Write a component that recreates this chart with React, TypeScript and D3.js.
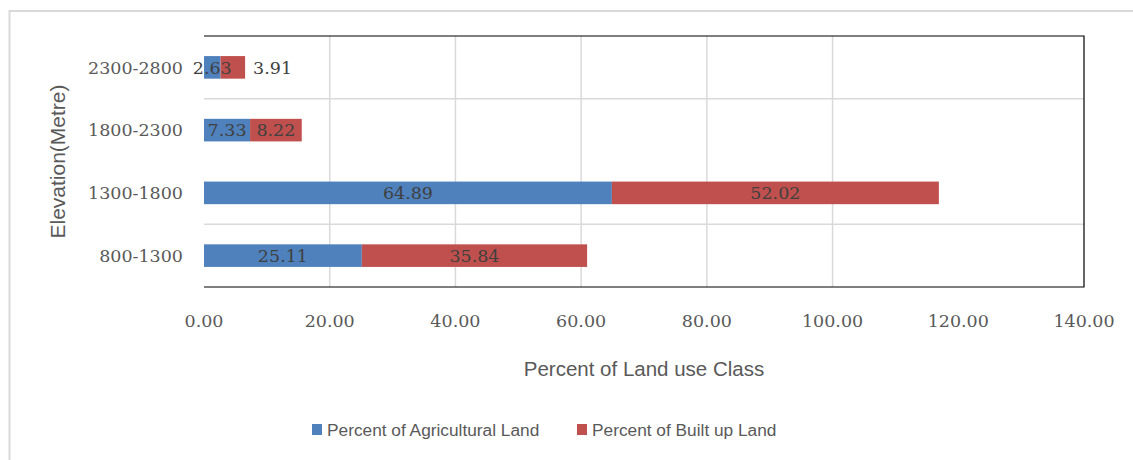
import React from 'react';
import * as d3 from 'd3';

const categories = ['2300-2800', '1800-2300', '1300-1800', '800-1300'];
const agricultural = [2.63, 7.33, 64.89, 25.11];
const builtUp = [3.91, 8.22, 52.02, 35.84];
const xTicks = [0, 20, 40, 60, 80, 100, 120, 140];
const seriesNames = ['Percent of Agricultural Land', 'Percent of Built up Land'];
const seriesColors = ['#4f81bd', '#c0504d'];

const W = 1133;
const H = 460;
const margin = { left: 204, right: 49, top: 36, bottom: 173 };

const serif = '"DejaVu Serif", serif';
const sans = '"Liberation Sans", Arial, sans-serif';

export default function App() {
  const x = d3
    .scaleLinear()
    .domain([0, 140])
    .range([margin.left, W - margin.right]);
  const y = d3
    .scaleBand<string>()
    .domain(categories)
    .range([margin.top, H - margin.bottom])
    .paddingInner(0.64)
    .paddingOuter(0.32);

  const rows = categories.map((c, i) => ({ cat: c, a: agricultural[i], b: builtUp[i] }));
  const stack = d3.stack<any>().keys(['a', 'b'])(rows);
  const step = y.step();
  const x0 = x(0);
  const x1 = x(140);
  const top = margin.top;
  const bottom = H - margin.bottom;

  return (
    <div style={{ position: 'fixed', left: 0, top: 0 }}>
      <svg width={W} height={H} style={{ display: 'block', background: '#fff' }}>
        {/* chart frame */}
        <rect x={9.5} y={11} width={W + 20} height={H + 20} fill="none" stroke="#d9d9d9" strokeWidth={2} />

        {/* gridlines */}
        {xTicks
          .filter((t) => t > 0 && t < 120)
          .map((t) => (
            <line key={t} x1={x(t)} x2={x(t)} y1={top} y2={bottom} stroke="#d9d9d9" strokeWidth={1.5} />
          ))}
        {categories
          .filter((_, i) => i % 2 === 1)
          .map((c) => {
            const yy = (y(c) as number) - (step * y.paddingInner()) / 2;
            return <line key={c} x1={x0} x2={x1} y1={yy} y2={yy} stroke="#d9d9d9" strokeWidth={1.5} />;
          })}

        {/* plot border (no left side) */}
        <path d={`M${x0},${top}H${x1}V${bottom}H${x0}`} fill="none" stroke="#000" strokeWidth={1.2} />

        {/* bars */}
        {stack.map((s, si) =>
          s.map((d: any) => (
            <rect
              key={`${si}-${d.data.cat}`}
              x={x(d[0])}
              y={y(d.data.cat)}
              width={x(d[1]) - x(d[0])}
              height={y.bandwidth()}
              fill={seriesColors[si]}
            />
          ))
        )}

        {/* data labels */}
        {stack.map((s, si) =>
          s.map((d: any) => {
            const w = x(d[1]) - x(d[0]);
            const v = d[1] - d[0];
            const outside = si === 1 && w < 30;
            return (
              <text
                key={`l-${si}-${d.data.cat}`}
                x={outside ? x(d[1]) + 8 : (x(d[0]) + x(d[1])) / 2}
                y={(y(d.data.cat) as number) + y.bandwidth() / 2}
                dy="0.36em"
                textAnchor={outside ? 'start' : 'middle'}
                fontFamily={serif}
                fontSize={17.5}
                fill="#404040"
              >
                {v.toFixed(2)}
              </text>
            );
          })
        )}

        {/* y category labels */}
        {categories.map((c) => (
          <text
            key={c}
            x={x0 - 21}
            y={(y(c) as number) + y.bandwidth() / 2}
            dy="0.36em"
            textAnchor="end"
            fontFamily={serif}
            fontSize={17.5}
            fill="#595959"
          >
            {c}
          </text>
        ))}

        {/* x tick labels */}
        {xTicks.map((t) => (
          <text
            key={t}
            x={x(t)}
            y={327}
            textAnchor="middle"
            fontFamily={serif}
            fontSize={17.5}
            fill="#595959"
          >
            {d3.format('.2f')(t)}
          </text>
        ))}

        {/* axis titles */}
        <text
          x={(x0 + x1) / 2}
          y={376}
          textAnchor="middle"
          fontFamily={sans}
          fontSize={20.5}
          fill="#595959"
        >
          Percent of Land use Class
        </text>
        <text
          transform={`translate(65,${(top + bottom) / 2}) rotate(-90)`}
          textAnchor="middle"
          fontFamily={sans}
          fontSize={21}
          fill="#595959"
        >
          Elevation(Metre)
        </text>

        {/* legend */}
        {seriesNames.map((n, i) => {
          const lx = i === 0 ? 312 : 577;
          return (
            <g key={n}>
              <rect x={lx} y={424} width={10} height={11} fill={seriesColors[i]} />
              <text x={lx + 15} y={436} fontFamily={sans} fontSize={17.3} fill="#595959">
                {n}
              </text>
            </g>
          );
        })}
      </svg>
    </div>
  );
}
